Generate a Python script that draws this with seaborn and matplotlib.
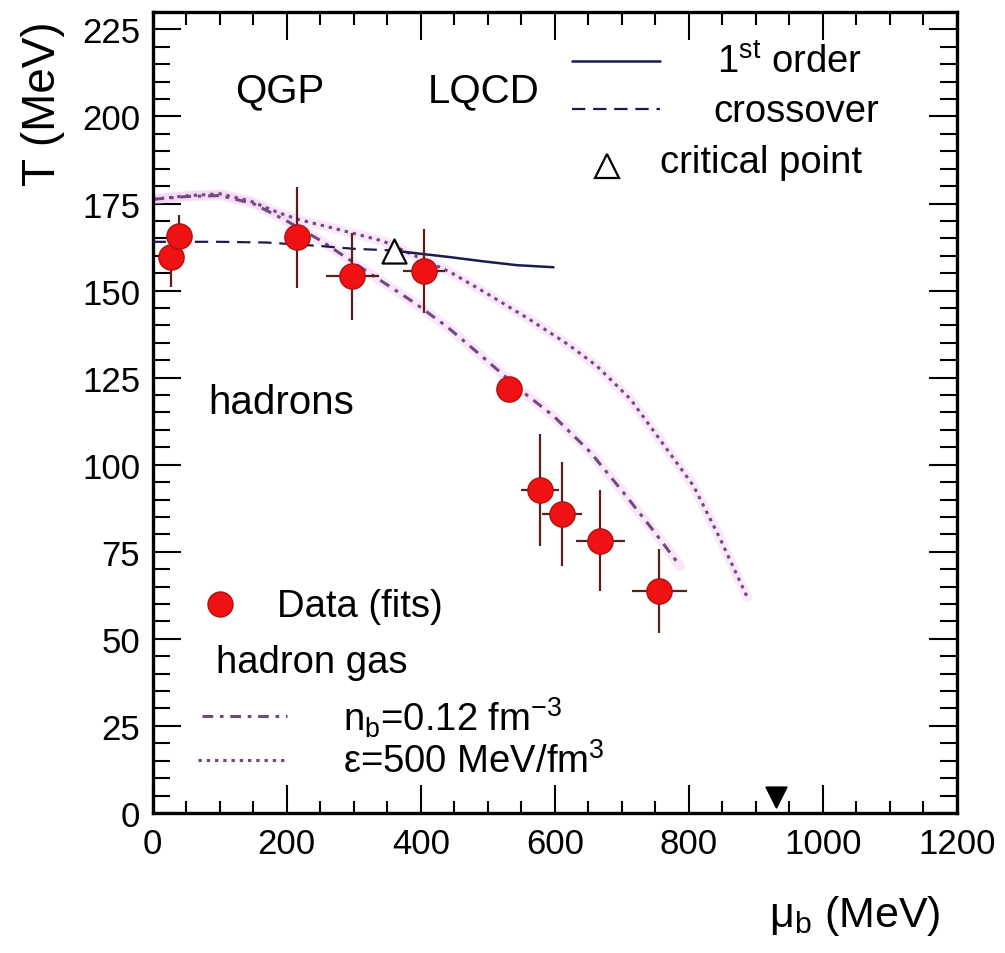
import matplotlib
matplotlib.use("Agg")
import matplotlib.pyplot as plt
import seaborn as sns
import pandas as pd
from matplotlib.ticker import MultipleLocator, FixedLocator

# ---------------- data ----------------
data_mu = [27, 39, 215, 298, 405, 531, 578, 611, 668, 756]
data_T = [159.6, 165.6, 165.3, 154.1, 155.6, 121.7, 92.7, 85.8, 78.1, 63.7]
data_T_err = [8.5, 6.2, 14.5, 12.5, 12.0, 3.0, 16.0, 15.0, 14.5, 12.0]
data_mu_err = [0, 0, 0, 40, 31, 10, 28, 30, 37, 41]

crossover_mu = [0, 100, 170, 250, 300, 360]
crossover_T = [164.0, 164.0, 163.8, 162.8, 162.0, 161.5]

first_order_mu = [360, 380, 444, 493, 543, 598]
first_order_T = [161.5, 161.0, 159.6, 158.4, 157.3, 156.7]

critical_mu = [360]
critical_T = [161.5]

nuclear_mu = [930]
nuclear_T = [4.6]

nb_mu = [0, 50, 100, 150, 200, 254, 300, 344, 389, 440, 489, 553, 598, 653, 702, 749, 787]
nb_T = [176.2, 177.0, 177.3, 175.0, 170.0, 164.0, 158.0, 152.4, 146.7, 139.5, 131.5,
        120.8, 114.0, 103.6, 92.1, 80.6, 70.9]

eps_mu = [0, 50, 100, 146, 186, 216, 276, 344, 444, 500, 560, 620, 663, 713, 767, 807, 847, 887]
eps_T = [176.2, 177.2, 177.8, 175.7, 172.5, 170.5, 167.6, 164.2, 155.3, 149.0, 142.0,
         134.5, 128.3, 118.8, 104.5, 93.9, 78.6, 62.0]

x_ticks = [0, 200, 400, 600, 800, 1000, 1200]
y_ticks = [0, 25, 50, 75, 100, 125, 150, 175, 200, 225]

# ---------------- style ----------------
sns.set_theme(style="ticks")
plt.rcParams["font.family"] = ["Liberation Sans", "DejaVu Sans"]
plt.rcParams["mathtext.default"] = "regular"

NAVY = "#1b1b4f"
CURVE = "#6e4c7e"
HALO = "#f4c4f4"
RED = "#f01212"
RED_EDGE = "#b01010"
ERR = "#5a1e1e"

fig = plt.figure(figsize=(10.05, 9.54), dpi=100)
fig.patch.set_facecolor("white")
ax = fig.add_axes([0.1519, 0.1468, 0.8003, 0.8396])
ax.set_facecolor("white")

# ---------------- curves ----------------
nb_df = pd.DataFrame({"mu": nb_mu, "T": nb_T})
eps_df = pd.DataFrame({"mu": eps_mu, "T": eps_T})
for df in (nb_df, eps_df):
    sns.lineplot(data=df, x="mu", y="T", ax=ax, sort=False, estimator=None,
                 color=HALO, linewidth=7, alpha=0.4, zorder=1)
sns.lineplot(data=nb_df, x="mu", y="T", ax=ax, sort=False, estimator=None,
             color=CURVE, linewidth=2.2, linestyle=(0, (3.5, 2.2, 1.2, 2.2)), zorder=2)
sns.lineplot(data=eps_df, x="mu", y="T", ax=ax, sort=False, estimator=None,
             color=CURVE, linewidth=2.2, linestyle=(0, (1.1, 1.6)), zorder=2)

sns.lineplot(x=crossover_mu, y=crossover_T, ax=ax, sort=False, estimator=None,
             color=NAVY, linewidth=1.6, linestyle=(0, (6, 3.5)), zorder=3)
sns.lineplot(x=first_order_mu, y=first_order_T, ax=ax, sort=False, estimator=None,
             color=NAVY, linewidth=1.8, zorder=3)

# ---------------- data points ----------------
ax.errorbar(data_mu, data_T, yerr=data_T_err, xerr=data_mu_err, fmt="none",
            ecolor=ERR, elinewidth=1.6, capsize=0, zorder=4)
sns.scatterplot(x=data_mu, y=data_T, ax=ax, s=330, color=RED,
                edgecolor=RED_EDGE, linewidth=1.0, zorder=5)

sns.scatterplot(x=critical_mu, y=critical_T, ax=ax, marker="^", s=300,
                facecolor="white", edgecolor="black", linewidth=1.6, zorder=6)
sns.scatterplot(x=nuclear_mu, y=nuclear_T, ax=ax, marker="v", s=220,
                color="black", edgecolor="black", zorder=6)

# ---------------- axes ----------------
ax.set_xlim(0, 1200)
ax.set_ylim(0, 230)
ax.xaxis.set_major_locator(FixedLocator(x_ticks))
ax.yaxis.set_major_locator(FixedLocator(y_ticks))
ax.set_xticklabels([str(v) for v in x_ticks])
ax.set_yticklabels([str(v) for v in y_ticks])
ax.xaxis.set_minor_locator(MultipleLocator(50))
ax.yaxis.set_minor_locator(MultipleLocator(5))
for sp in ax.spines.values():
    sp.set_visible(True)
    sp.set_linewidth(2.4)
    sp.set_color("black")
ax.tick_params(which="both", direction="in", top=True, right=True,
               color="black", width=1.5)
ax.tick_params(which="major", length=20, labelsize=25, labelcolor="black")
ax.tick_params(axis="x", which="major", pad=10)
ax.tick_params(axis="y", which="major", pad=9)
ax.tick_params(axis="x", which="minor", length=9)
ax.tick_params(axis="y", which="minor", length=12)

ax.set_xlabel("μ$_b$ (MeV)", fontsize=31, color="black")
ax.set_ylabel("T (MeV)", fontsize=33, color="black")
ax.xaxis.set_label_coords(0.873, -0.100)
ax.yaxis.set_label_coords(-0.109, 0.887)

# ---------------- in-plot labels ----------------
TXT = 29
ax.text(0.1584, 0.8889, "QGP", transform=ax.transAxes, fontsize=TXT,
        ha="center", va="baseline", color="black")
ax.text(0.4120, 0.8889, "LQCD", transform=ax.transAxes, fontsize=TXT,
        ha="center", va="baseline", color="black")
ax.text(0.0688, 0.4994, "hadrons", transform=ax.transAxes, fontsize=TXT,
        ha="left", va="baseline", color="black")

# ---------------- top-right key ----------------
LEG = 27.5
ax.plot([0.5214, 0.6309], [0.9388, 0.9388], transform=ax.transAxes,
        color=NAVY, linewidth=1.8)
ax.text(0.7016, 0.9247, "1$^{st}$ order", transform=ax.transAxes, fontsize=LEG,
        ha="left", va="baseline", color="black")
ax.plot([0.5214, 0.6309], [0.8789, 0.8789], transform=ax.transAxes,
        color=NAVY, linewidth=1.6, linestyle=(0, (6, 3.5)))
ax.text(0.6966, 0.8643, "crossover", transform=ax.transAxes, fontsize=LEG,
        ha="left", va="baseline", color="black")
ax.plot([0.5648], [0.8077], transform=ax.transAxes, marker="^", markersize=17,
        markerfacecolor="white", markeredgecolor="black", markeredgewidth=1.6,
        linestyle="none")
ax.text(0.6307, 0.8002, "critical point", transform=ax.transAxes, fontsize=LEG,
        ha="left", va="baseline", color="black")

# ---------------- bottom-left key ----------------
ax.plot([0.0837], [0.2609], transform=ax.transAxes, marker="o", markersize=18,
        markerfacecolor=RED, markeredgecolor=RED_EDGE, linestyle="none")
ax.text(0.1545, 0.2459, "Data (fits)", transform=ax.transAxes, fontsize=LEG,
        ha="left", va="baseline", color="black")
ax.text(0.0793, 0.1760, "hadron gas", transform=ax.transAxes, fontsize=LEG,
        ha="left", va="baseline", color="black")
ax.plot([0.0615, 0.1672], [0.1211, 0.1211], transform=ax.transAxes,
        color=CURVE, linewidth=2.2, linestyle=(0, (3.5, 2.2, 1.2, 2.2)))
ax.text(0.2366, 0.1024, "n$_b$=0.12 fm$^{-3}$", transform=ax.transAxes, fontsize=LEG,
        ha="left", va="baseline", color="black")
ax.plot([0.0566, 0.1672], [0.0662, 0.0662], transform=ax.transAxes,
        color=CURVE, linewidth=2.2, linestyle=(0, (1.1, 1.6)))
ax.text(0.2366, 0.0512, "ε=500 MeV/fm$^{3}$", transform=ax.transAxes, fontsize=LEG,
        ha="left", va="baseline", color="black")

fig.savefig("out.png", dpi=100, facecolor="white")
